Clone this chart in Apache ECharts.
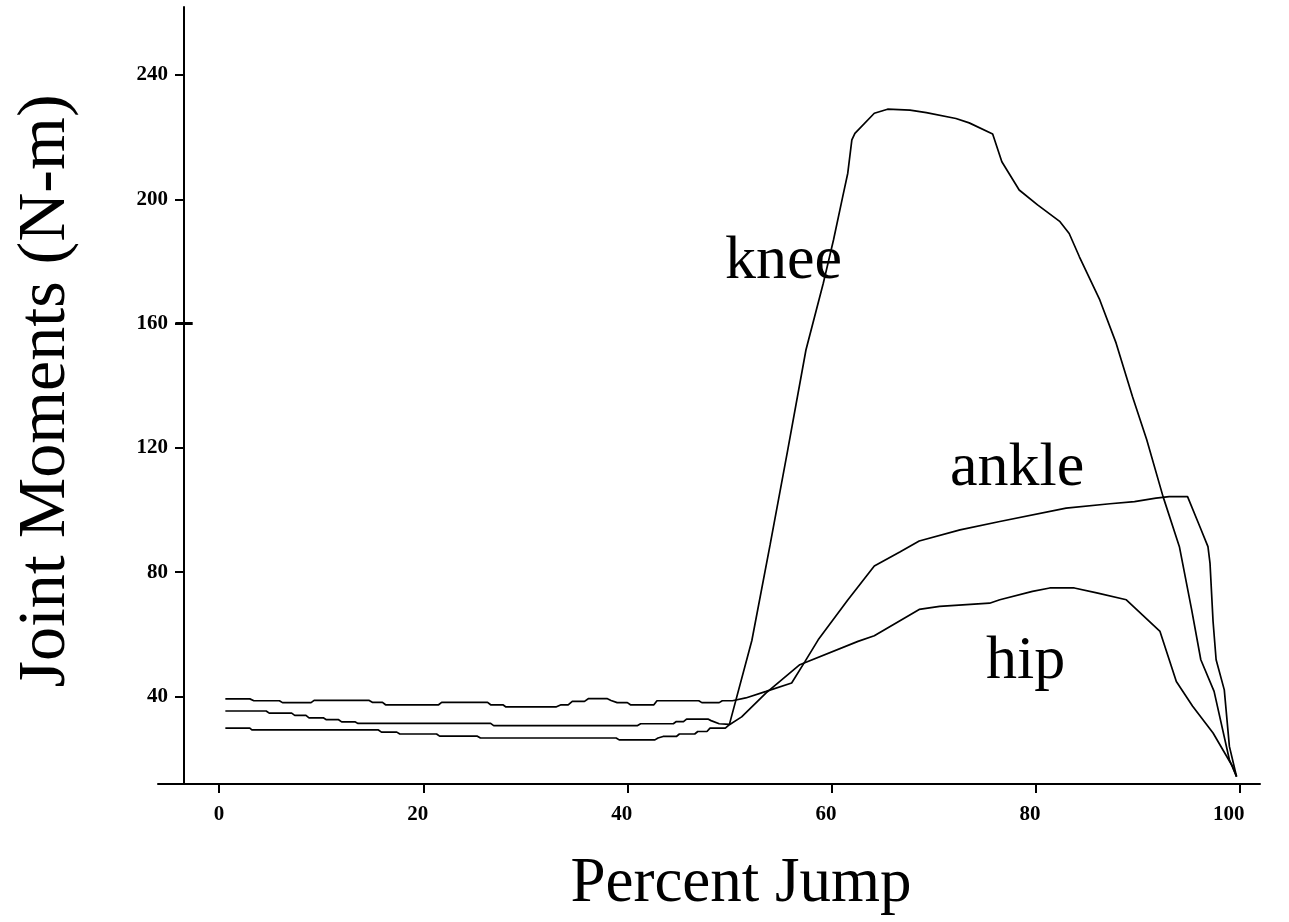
<!DOCTYPE html>
<html>
<head>
<meta charset="utf-8">
<script src="https://cdn.jsdelivr.net/npm/echarts@6/dist/echarts.min.js"></script>
<style>
html,body{margin:0;padding:0;background:#fff;}
#chart{width:1289px;height:922px;}
</style>
</head>
<body>
<div id="chart"></div>
<script>
const xTicks = [0, 20, 40, 60, 80, 100];
const yTicks = [40, 80, 120, 160, 200, 240];
const xTitle = 'Percent Jump';
const yTitle = 'Joint Moments (N-m)';
const seriesNames = ['knee', 'ankle', 'hip'];

const knee = [[0.6,35.3],[4.6,35.3],[4.9,34.6],[7.1,34.6],[7.4,33.9],[8.5,33.9],[8.8,33.1],[10.2,33.1],[10.5,32.5],[11.7,32.5],[12,31.8],[13.3,31.8],[13.6,31.3],[26.6,31.3],[26.9,30.6],[41,30.6],[41.3,31.2],[44.5,31.2],[44.8,31.9],[45.5,31.9],[45.8,32.7],[47.9,32.7],[48.2,32.2],[49,31.2],[50,31],[52.2,58],[54,89],[55.7,119],[57.5,151.5],[59.2,173],[60.2,186.9],[61.1,200.8],[61.6,208.4],[62.0,219.1],[62.3,221.2],[64.2,227.7],[65.5,229],[67.7,228.7],[69.3,227.9],[72.2,226],[73.5,224.6],[75.8,221],[76.7,212.1],[78.4,203],[80.2,198.2],[82.4,192.8],[83.3,189],[84.3,181.5],[86.3,167.6],[87.9,153.7],[89.5,136.5],[90.9,122.6],[92.5,104.3],[94.1,88.2],[95.3,67.9],[96.2,51.8],[97.5,41.6],[99.0,19.6],[99.7,14.2]];

const ankle = [[0.6,39.2],[3,39.2],[3.4,38.6],[5.9,38.6],[6.2,38.0],[9,38.0],[9.3,38.7],[14.7,38.7],[15,38.1],[16,38.1],[16.3,37.3],[21.5,37.3],[21.8,38.1],[26.3,38.1],[26.6,37.3],[27.8,37.3],[28.1,36.6],[33,36.6],[33.5,37.3],[34.2,37.3],[34.6,38.4],[35.8,38.4],[36.2,39.3],[38,39.3],[38.4,38.7],[39,38.0],[40,38.0],[40.3,37.3],[42.6,37.3],[42.9,38.6],[47,38.6],[47.3,38.0],[49,38.0],[49.3,38.6],[50.3,38.6],[51.6,39.5],[53.6,41.6],[56.1,44.3],[57.4,51.2],[58.7,58.2],[61.6,71],[64.2,82],[66.7,86.5],[68.6,90],[72.6,93.6],[76.5,96.3],[83,100.6],[87.3,102],[89.7,102.7],[91.8,103.8],[93.1,104.3],[94.9,104.3],[96.1,94.7],[96.9,88.2],[97.1,82.9],[97.4,64.1],[97.7,51.8],[98.5,42.1],[99.0,23.9],[99.7,14.2]];

const hip = [[0.6,29.8],[3,29.8],[3.2,29.2],[15.6,29.2],[15.9,28.5],[17.4,28.5],[17.7,27.9],[21.3,27.9],[21.6,27.2],[25.3,27.2],[25.6,26.6],[38.9,26.6],[39.2,26.0],[42.7,26.0],[43,26.6],[43.5,27.1],[44.8,27.1],[45.1,27.9],[46.6,27.9],[46.9,28.7],[47.8,28.7],[48.1,29.8],[49.6,29.8],[50,30.9],[51.2,33.4],[53.6,41.1],[56.9,50.2],[62.6,57.7],[64.2,59.5],[68.6,68],[70.6,69],[75.5,70],[76.5,71.1],[79.7,73.8],[81.4,74.9],[83.8,74.9],[86,73.3],[88.9,71.1],[92.2,60.9],[93.8,44.8],[95.4,36.8],[97.4,28.2],[99.3,17.5],[99.7,14.2]];

const chart = echarts.init(document.getElementById('chart'), null, {renderer: 'canvas'});
const serif = '"Liberation Serif", "Times New Roman", serif';
const tickFont = {fontFamily: serif, fontWeight: 'bold', fontSize: 21, color: '#000'};
const lineSty = {color: '#000', width: 1.7};

function mkSeries(name, data, extra) {
  return Object.assign({
    name: name, type: 'line', data: data, showSymbol: false, symbol: 'none',
    lineStyle: lineSty, itemStyle: {color: '#000'}, animation: false, z: 3
  }, extra || {});
}

const option = {
  backgroundColor: '#fff',
  animation: false,
  grid: {left: 158, right: 29, top: 7, bottom: 138, containLabel: false},
  xAxis: {
    type: 'value', min: -6, max: 102,
    axisLine: {show: true, lineStyle: {color: '#000', width: 2}},
    axisTick: {show: true, inside: false, length: 9, customValues: xTicks, lineStyle: {color: '#000', width: 2}},
    axisLabel: Object.assign({show: true, margin: 20, align: 'right', padding: [0, -5, 0, 0], customValues: xTicks, formatter: v => String(v)}, tickFont),
    splitLine: {show: false}
  },
  yAxis: {
    type: 'value', min: 11.8, max: 261.9, offset: -26,
    axisLine: {show: true, onZero: false, lineStyle: {color: '#000', width: 2}},
    axisTick: {show: true, inside: false, length: 9, customValues: yTicks, lineStyle: {color: '#000', width: 2}},
    axisLabel: Object.assign({show: true, margin: 16, customValues: yTicks, formatter: v => String(v)}, tickFont),
    splitLine: {show: false}
  },
  series: [
    mkSeries(seriesNames[0], knee, {
      markLine: {
        silent: true, symbol: 'none', animation: false,
        label: {show: false},
        lineStyle: {color: '#000', width: 3, type: 'solid'},
        data: [[{coord: [-4.3, yTicks[3]]}, {coord: [-2.6, yTicks[3]]}]]
      }
    }),
    mkSeries(seriesNames[1], ankle),
    mkSeries(seriesNames[2], hip)
  ],
  graphic: [
    {type: 'text', x: 725, y: 262, style: {text: seriesNames[0], font: '62px ' + serif, fill: '#000', textAlign: 'left', textVerticalAlign: 'middle'}},
    {type: 'text', x: 950, y: 469, style: {text: seriesNames[1], font: '62px ' + serif, fill: '#000', textAlign: 'left', textVerticalAlign: 'middle'}},
    {type: 'text', x: 986, y: 662, style: {text: seriesNames[2], font: '62px ' + serif, fill: '#000', textAlign: 'left', textVerticalAlign: 'middle'}},
    {type: 'text', x: 741, y: 884, style: {text: xTitle, font: '63px ' + serif, fill: '#000', textAlign: 'center', textVerticalAlign: 'middle'}},
    {type: 'text', x: 46, y: 391, rotation: Math.PI / 2, style: {text: yTitle, font: '68px ' + serif, fill: '#000', textAlign: 'center', textVerticalAlign: 'middle'}}
  ]
};
chart.setOption(option);
</script>
</body>
</html>
